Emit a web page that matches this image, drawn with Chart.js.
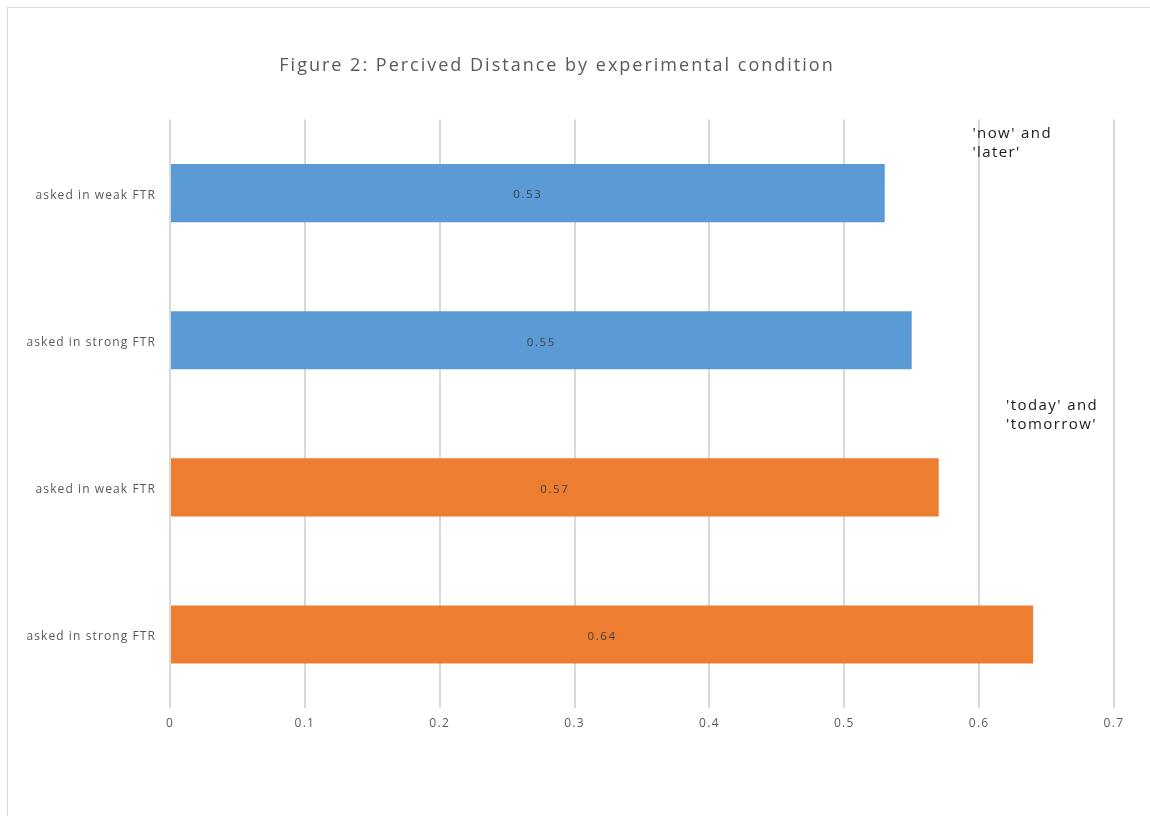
<!DOCTYPE html>
<html>
<head>
<meta charset="utf-8">
<script src="https://cdn.jsdelivr.net/npm/chart.js@4"></script>
<style>
  html, body { margin: 0; padding: 0; background: #fff; overflow: hidden; }
  #frame { position: absolute; left: 7px; top: 7px; width: 1300px; height: 1000px; border: 1px solid #d9d9d9; }
  #wrap { position: absolute; left: 0; top: 0; width: 1150px; height: 816px; }
</style>
</head>
<body>
<div id="frame"></div>
<div id="wrap"><canvas id="c" width="1150" height="816"></canvas></div>
<script>
// Categories, top to bottom
const categories = ['asked in weak FTR', 'asked in strong FTR', 'asked in weak FTR', 'asked in strong FTR'];
// Word-pair condition series
const nowLaterLabel = ["'now' and", "'later'"];
const todayTomorrowLabel = ["'today' and", "'tomorrow'"];
const nowLaterValues = [0.53, 0.55, null, null];
const todayTomorrowValues = [null, null, 0.57, 0.64];
const xTicks = [0, 0.1, 0.2, 0.3, 0.4, 0.5, 0.6, 0.7];

const FONT = "'Open Sans', sans-serif";

// Wraps a draw method so its text is rendered with extra tracking
function tracked(obj, method, spacing) {
  if (!obj || obj['_tracked_' + method]) return;
  const orig = obj[method];
  obj[method] = function (...args) {
    const c = this.ctx;
    const prev = c.letterSpacing;
    c.letterSpacing = spacing;
    const r = orig.apply(this, args);
    c.letterSpacing = prev;
    return r;
  };
  obj['_tracked_' + method] = true;
}

const tracking = {
  id: 'tracking',
  beforeDraw(chart) {
    tracked(chart.titleBlock, 'draw', '2px');
    tracked(chart.scales.x, 'drawLabels', '1.3px');
    tracked(chart.scales.y, 'drawLabels', '1.1px');
  }
};

// Writes each bar's value in the middle of the bar
const valueLabels = {
  id: 'valueLabels',
  afterDatasetsDraw(chart) {
    const ctx = chart.ctx;
    ctx.save();
    ctx.font = '11.5px ' + FONT;
    ctx.letterSpacing = '1.6px';
    ctx.fillStyle = '#404040';
    ctx.textAlign = 'center';
    ctx.textBaseline = 'middle';
    chart.data.datasets.forEach((ds, di) => {
      chart.getDatasetMeta(di).data.forEach((bar, i) => {
        const v = ds.data[i];
        if (v === null || v === undefined) return;
        const p = bar.getProps(['x', 'y', 'base'], true);
        ctx.fillText(String(v), (p.x + p.base) / 2, p.y + 2);
      });
    });
    ctx.restore();
  }
};

// Series names placed at the right of the plot, beside their bars
const seriesNames = {
  id: 'seriesNames',
  afterDraw(chart) {
    const ctx = chart.ctx;
    const xs = chart.scales.x, ys = chart.scales.y;
    ctx.save();
    ctx.font = '15px ' + FONT;
    ctx.letterSpacing = '1.4px';
    ctx.fillStyle = '#1a1a1a';
    ctx.textAlign = 'left';
    ctx.textBaseline = 'middle';
    const spots = [
      { x: xs.getPixelForValue(0.595), y: ys.getPixelForValue(0) - 59 },
      { x: xs.getPixelForValue(0.62), y: ys.getPixelForValue(2) - 82 }
    ];
    chart.data.datasets.forEach((ds, di) => {
      ds.label.forEach((t, li) => ctx.fillText(t, spots[di].x, spots[di].y + li * 19));
    });
    ctx.restore();
  }
};

new Chart(document.getElementById('c'), {
  type: 'bar',
  data: {
    labels: categories,
    datasets: [
      { label: nowLaterLabel, data: nowLaterValues, backgroundColor: '#5B9BD5', grouped: false },
      { label: todayTomorrowLabel, data: todayTomorrowValues, backgroundColor: '#ED7D31', grouped: false }
    ]
  },
  options: {
    indexAxis: 'y',
    responsive: false,
    animation: false,
    layout: { padding: { left: 0, right: 36, top: 0, bottom: 0 } },
    datasets: { bar: { barPercentage: 0.395, categoryPercentage: 1 } },
    plugins: {
      legend: { display: false },
      tooltip: { enabled: false },
      title: {
        display: true,
        text: 'Figure 2: Percived Distance by experimental condition',
        color: '#595959',
        font: { family: FONT, size: 18, weight: 'normal' },
        padding: { top: 55, bottom: 43 }
      }
    },
    scales: {
      x: {
        min: 0, max: 0.7,
        afterBuildTicks(scale) { scale.ticks = xTicks.map(v => ({ value: v })); },
        grid: { color: '#d9d9d9', lineWidth: 2, drawTicks: false },
        border: { display: false },
        ticks: {
          padding: 8,
          color: '#595959',
          font: { family: FONT, size: 12 },
          callback: v => String(v)
        },
        afterFit(scale) { scale.height = 108; }
      },
      y: {
        grid: { display: false, drawTicks: false },
        border: { display: false },
        ticks: {
          padding: 14,
          labelOffset: 2,
          color: '#595959',
          font: { family: FONT, size: 12 }
        },
        afterFit(scale) { scale.width = 170; }
      }
    }
  },
  plugins: [tracking, valueLabels, seriesNames]
});
</script>
</body>
</html>
